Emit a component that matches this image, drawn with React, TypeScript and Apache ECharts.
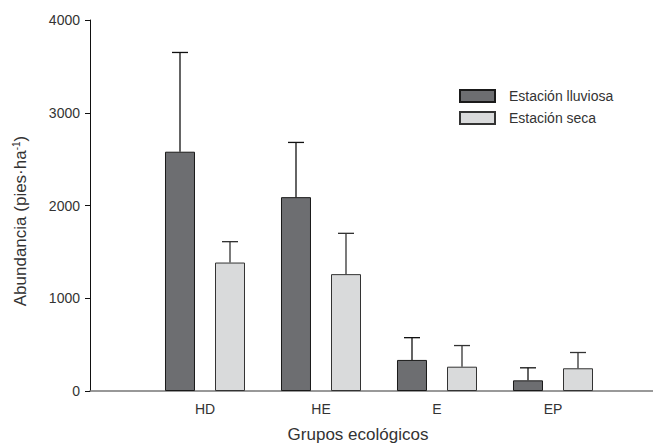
import React, { useEffect, useRef } from "react";
import * as echarts from "echarts";

const categories = ["HD", "HE", "E", "EP"];
const rainyValues = [2580, 2090, 335, 115];
const rainyErrTop = [3650, 2680, 575, 250];
const dryValues = [1385, 1260, 262, 245];
const dryErrTop = [1610, 1700, 490, 415];
const yTicks = [0, 1000, 2000, 3000, 4000];
const seriesNames = ["Estación lluviosa", "Estación seca"];

const FONT = "Liberation Sans";

function errorSeries(name: string, values: number[], tops: number[], offset: number, color: string) {
  return {
    type: "custom",
    name,
    xAxisIndex: 0,
    yAxisIndex: 0,
    z: 5,
    data: values.map((v, i) => [i, v, tops[i]]),
    renderItem: (params: any, api: any) => {
      const base = api.coord([api.value(0), api.value(1)]);
      const top = api.coord([api.value(0), api.value(2)]);
      const x = base[0] + offset;
      const style = { stroke: color, lineWidth: 1.3 };
      return {
        type: "group",
        children: [
          { type: "line", shape: { x1: x, y1: base[1], x2: x, y2: top[1] }, style },
          { type: "line", shape: { x1: x - 8, y1: top[1], x2: x + 8, y2: top[1] }, style },
        ],
      };
    },
  };
}

export default function App() {
  const ref = useRef<HTMLDivElement>(null);
  useEffect(() => {
    document.body.style.margin = "0";
    if (!ref.current) return;
    const chart = echarts.init(ref.current, undefined, { renderer: "svg" });
    chart.setOption({
      animation: false,
      backgroundColor: "#ffffff",
      textStyle: { fontFamily: FONT },
      legend: {
        data: seriesNames,
        orient: "vertical",
        icon: "rect",
        left: 454,
        top: 84,
        itemWidth: 35,
        itemHeight: 12,
        itemGap: 8,
        textStyle: { fontSize: 14, color: "#333", fontFamily: FONT, padding: [0, 0, 0, 9] },
      },
      grid: [
        { left: 147, width: 464, top: 20, bottom: 54 },
        { left: 90, right: 0, top: 20, bottom: 54 },
      ],
      xAxis: [
        {
          type: "category",
          gridIndex: 0,
          data: categories,
          axisLine: { show: false },
          axisTick: { show: false },
          axisLabel: { fontSize: 14, color: "#333", margin: 11, fontFamily: FONT },
        },
        {
          type: "value",
          gridIndex: 1,
          min: 0,
          max: 1,
          axisLine: { show: true, lineStyle: { color: "#777", width: 1.5 } },
          axisTick: { show: false },
          axisLabel: { show: false },
          splitLine: { show: false },
        },
      ],
      yAxis: [
        {
          type: "value",
          gridIndex: 0,
          min: yTicks[0],
          max: yTicks[yTicks.length - 1],
          interval: 1000,
          offset: 57,
          axisLine: { show: true, lineStyle: { color: "#111", width: 1 } },
          axisTick: { show: true, length: 5, lineStyle: { color: "#111" } },
          axisLabel: {
            fontSize: 14,
            color: "#333",
            margin: 10,
            fontFamily: FONT,
            formatter: (v: number) => String(v),
          },
          splitLine: { show: false },
        },
        {
          type: "value",
          gridIndex: 1,
          show: false,
        },
      ],
      graphic: [
        {
          type: "text",
          x: 20,
          y: 221,
          rotation: Math.PI / 2,
          style: {
            text: "Abundancia (pies·ha{sup|-1})",
            fontSize: 17,
            fill: "#333",
            fontFamily: FONT,
            textAlign: "center",
            textVerticalAlign: "middle",
            rich: {
              sup: { fontSize: 10, verticalAlign: "top", fill: "#333", fontFamily: FONT },
            },
          },
        },
        {
          type: "text",
          x: 358,
          y: 434,
          style: {
            text: "Grupos ecológicos",
            fontSize: 17,
            fill: "#333",
            fontFamily: FONT,
            textAlign: "center",
            textVerticalAlign: "middle",
          },
        },
      ],
      series: [
        {
          type: "bar",
          name: seriesNames[0],
          data: rainyValues,
          barWidth: 30,
          barGap: "66.67%",
          itemStyle: { color: "#6d6e71", borderColor: "#1a1a1a", borderWidth: 1 },
        },
        {
          type: "bar",
          name: seriesNames[1],
          data: dryValues,
          barWidth: 30,
          barGap: "66.67%",
          itemStyle: { color: "#d9dadb", borderColor: "#333", borderWidth: 1 },
        },
        errorSeries("err-rainy", rainyValues, rainyErrTop, -25, "#111"),
        errorSeries("err-dry", dryValues, dryErrTop, 25, "#333"),
      ],
    });
    return () => chart.dispose();
  }, []);
  return <div ref={ref} style={{ width: 653, height: 445 }} />;
}
